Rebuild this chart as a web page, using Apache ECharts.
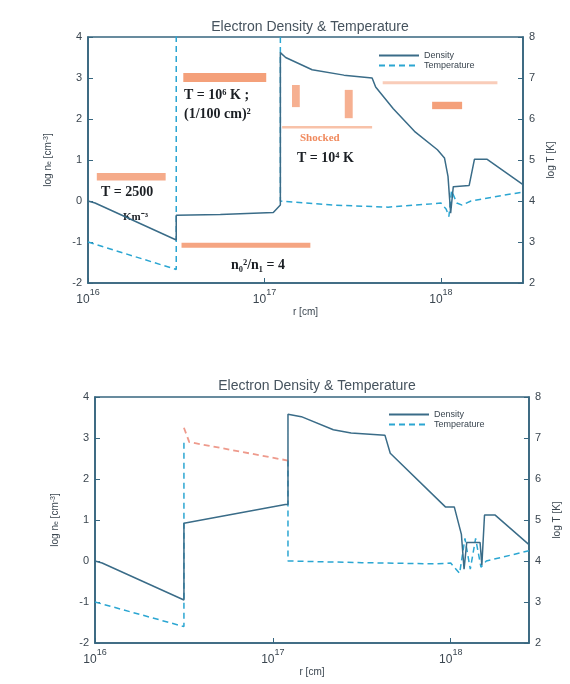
<!DOCTYPE html>
<html>
<head>
<meta charset="utf-8">
<script src="https://cdn.jsdelivr.net/npm/echarts@6/dist/echarts.min.js"></script>
<style>
  html, body { margin: 0; padding: 0; background: #ffffff; }
  #chart { width: 570px; height: 684px; }
</style>
</head>
<body>
<div id="chart"></div>
<script>
// Radii are log10 r [cm]; density is log10 n_e [cm^-3]; temperature is log10 T [K].

// Upper panel
const upperDensityR = [16.0, 16.04, 16.5, 16.5, 16.75, 17.05, 17.09, 17.09, 17.12, 17.27, 17.45, 17.61, 17.63, 17.73, 17.85, 17.98, 18.02, 18.04, 18.055, 18.07, 18.16, 18.19, 18.26, 18.465];
const upperDensity  = [0.0, -0.05, -0.95, -0.35, -0.33, -0.28, -0.1, 3.62, 3.5, 3.2, 3.07, 3.0, 2.78, 2.25, 1.7, 1.25, 1.05, 0.6, -0.3, 0.35, 0.38, 1.02, 1.02, 0.4];
const upperTempR = [16.0, 16.5, 16.5, 17.09, 17.09, 17.4, 17.7, 17.95, 18.0, 18.03, 18.045, 18.06, 18.09, 18.12, 18.17, 18.3, 18.465];
const upperTemp  = [3.0, 2.33, 8.5, 8.5, 4.0, 3.9, 3.85, 3.93, 3.95, 3.8, 3.62, 4.25, 3.95, 3.9, 4.0, 4.1, 4.22];

// Lower panel
const lowerDensityR = [16.0, 16.04, 16.5, 16.5, 17.07, 17.085, 17.085, 17.16, 17.34, 17.44, 17.63, 17.66, 17.97, 18.02, 18.06, 18.075, 18.09, 18.165, 18.175, 18.19, 18.25, 18.44];
const lowerDensity  = [0.0, -0.05, -0.95, 0.92, 1.38, 1.38, 3.58, 3.52, 3.2, 3.12, 3.07, 2.63, 1.32, 1.32, 0.65, -0.2, 0.45, 0.45, -0.1, 1.12, 1.12, 0.4];
const lowerTempInnerR = [16.0, 16.5, 16.5];
const lowerTempInner  = [3.0, 2.4, 6.9];
const lowerTempShellR = [16.5, 16.53, 17.085];
const lowerTempShell  = [7.25, 6.9, 6.45];
const lowerTempOuterR = [17.085, 17.085, 17.5, 17.9, 18.0, 18.05, 18.08, 18.11, 18.14, 18.17, 18.2, 18.44];
const lowerTempOuter  = [6.45, 4.0, 3.96, 3.93, 3.95, 3.7, 4.55, 3.8, 4.55, 3.85, 4.0, 4.25];

// Axis ticks
const xTicks = [16, 17, 18];
const densityTicks = [-2, -1, 0, 1, 2, 3, 4];
const tempTicks = [2, 3, 4, 5, 6, 7, 8];

const TITLE = 'Electron Density & Temperature';
const DENS_COLOR = '#3a6c88';
const TEMP_COLOR = '#2ba6d2';
const FRAME = '#37667f';
const ORANGE = '#f28f63';

function pairs(xs, ys) { return xs.map((x, i) => [x, ys[i]]); }

const grids = [
  { left: 88, top: 37, width: 435, height: 246 },
  { left: 95, top: 397, width: 435, height: 246 }
];
const xMax = [18.465, 18.44];

const tickLabel = {
  color: '#3b4650', fontSize: 11, fontFamily: 'Liberation Sans'
};

function xAxis(i) {
  return {
    type: 'value', gridIndex: i, min: xTicks[0], max: xMax[i], interval: 1,
    name: 'r [cm]', nameLocation: 'middle', nameGap: 22,
    nameTextStyle: { color: '#3b4650', fontSize: 10, fontFamily: 'Liberation Sans' },
    axisLine: { onZero: false, lineStyle: { color: FRAME, width: 1.6 } },
    axisTick: { inside: true, length: 5, lineStyle: { color: FRAME } },
    splitLine: { show: false },
    axisLabel: {
      showMaxLabel: false, margin: 5,
      formatter: v => '{b|10}{s|' + v + '}',
      rich: {
        b: { fontSize: 12, color: '#3b4650', fontFamily: 'Liberation Sans', padding: [6, 0, 0, 0] },
        s: { fontSize: 9, color: '#3b4650', fontFamily: 'Liberation Sans', verticalAlign: 'top', padding: [0, 0, 6, 0] }
      }
    }
  };
}

function densityAxis(i) {
  return {
    type: 'value', gridIndex: i, position: 'left',
    min: densityTicks[0], max: densityTicks[densityTicks.length - 1], interval: 1,
    name: 'log n{sub|e} [cm{sup|-3}]', nameLocation: 'middle', nameGap: 35,
    nameTextStyle: {
      color: '#3b4650', fontSize: 10, fontFamily: 'Liberation Sans',
      rich: {
        sub: { fontSize: 7, color: '#3b4650', verticalAlign: 'bottom' },
        sup: { fontSize: 7, color: '#3b4650', verticalAlign: 'top' }
      }
    },
    axisLine: { show: true, onZero: false, lineStyle: { color: FRAME, width: 1.6 } },
    axisTick: { show: true, inside: true, length: 5, lineStyle: { color: FRAME } },
    splitLine: { show: false },
    axisLabel: Object.assign({ margin: 6 }, tickLabel)
  };
}

function tempAxis(i) {
  return {
    type: 'value', gridIndex: i, position: 'right',
    min: tempTicks[0], max: tempTicks[tempTicks.length - 1], interval: 1,
    name: 'log T [K]', nameLocation: 'middle', nameGap: 19,
    nameTextStyle: { color: '#3b4650', fontSize: 10, fontFamily: 'Liberation Sans' },
    axisLine: { show: true, onZero: false, lineStyle: { color: FRAME, width: 1.6 } },
    axisTick: { show: true, inside: true, length: 5, lineStyle: { color: FRAME } },
    splitLine: { show: false },
    axisLabel: Object.assign({ margin: 6 }, tickLabel)
  };
}

function densitySeries(i, data, extra) {
  return Object.assign({
    name: 'Density', type: 'line', xAxisIndex: i, yAxisIndex: i * 2,
    data: data, symbol: 'none', clip: true, silent: true,
    lineStyle: { color: DENS_COLOR, width: 1.5 }, itemStyle: { color: DENS_COLOR }, z: 3
  }, extra || {});
}

function tempSeries(i, data, name, color, width) {
  return {
    name: name, type: 'line', xAxisIndex: i, yAxisIndex: i * 2 + 1,
    data: data, symbol: 'none', clip: true, silent: true, connectNulls: false,
    lineStyle: { color: color, width: width, type: [6, 4] }, itemStyle: { color: color }, z: 2
  };
}

function bar(x1, y1, x2, y2, color, opacity) {
  return [
    { coord: [x1, y1], itemStyle: { color: color, opacity: opacity } },
    { coord: [x2, y2] }
  ];
}

// Highlighter marks over the upper panel, in data coordinates
const upperHighlights = {
  silent: true,
  data: [
    bar(16.54, 3.12, 17.01, 2.9, ORANGE, 0.85),
    bar(16.05, 0.68, 16.44, 0.5, ORANGE, 0.75),
    bar(16.53, -1.02, 17.26, -1.14, ORANGE, 0.8),
    bar(17.156, 2.83, 17.2, 2.29, ORANGE, 0.7),
    bar(17.455, 2.71, 17.5, 2.02, ORANGE, 0.7),
    bar(17.10, 1.83, 17.61, 1.77, ORANGE, 0.55),
    bar(17.67, 2.92, 18.32, 2.85, ORANGE, 0.45),
    bar(17.95, 2.42, 18.12, 2.24, ORANGE, 0.85)
  ]
};

const serifBold = 'bold 14px "Liberation Serif", "DejaVu Serif", serif';
function note(x, y, text, color, font) {
  return { type: 'text', left: x, top: y, silent: true,
    style: { text: text, fill: color || '#1b1f24', font: font || serifBold } };
}

const legendBase = {
  orient: 'vertical', itemWidth: 40, itemHeight: 8, itemGap: 1,
  data: ['Density', 'Temperature'], selectedMode: false,
  itemStyle: { opacity: 0 },
  textStyle: { fontSize: 9, color: '#3b4650', fontFamily: 'Liberation Sans' }
};

const option = {
  animation: false,
  backgroundColor: '#ffffff',
  title: [
    { text: TITLE, left: 305, top: 15, textAlign: 'center',
      textStyle: { color: '#46535e', fontSize: 14, fontWeight: 'normal', fontFamily: 'Liberation Sans' } },
    { text: TITLE, left: 312, top: 374, textAlign: 'center',
      textStyle: { color: '#46535e', fontSize: 14, fontWeight: 'normal', fontFamily: 'Liberation Sans' } }
  ],
  legend: [
    Object.assign({ left: 373, top: 46 }, legendBase),
    Object.assign({ left: 383, top: 405 }, legendBase)
  ],
  grid: grids.map(g => Object.assign({ show: true, borderColor: FRAME, borderWidth: 1.6, backgroundColor: 'transparent' }, g)),
  xAxis: [xAxis(0), xAxis(1)],
  yAxis: [densityAxis(0), tempAxis(0), densityAxis(1), tempAxis(1)],
  series: [
    densitySeries(0, pairs(upperDensityR, upperDensity), { markArea: upperHighlights }),
    tempSeries(0, pairs(upperTempR, upperTemp), 'Temperature', TEMP_COLOR, 1.5),
    densitySeries(1, pairs(lowerDensityR, lowerDensity)),
    tempSeries(1, pairs(lowerTempInnerR, lowerTempInner).concat([[16.51, '-']], pairs(lowerTempOuterR, lowerTempOuter)), 'Temperature', TEMP_COLOR, 1.5),
    tempSeries(1, pairs(lowerTempShellR, lowerTempShell), 'Shell temperature', '#ee9a8c', 1.8)
  ],
  graphic: [
    note(101, 185, 'T = 2500'),
    note(123, 212, 'Km\u207b\u00b3', '#1b1f24', 'bold 11px "Liberation Serif", serif'),
    note(184, 88, 'T = 10\u2076 K ;'),
    note(184, 107, '(1/100 cm)\u00b2'),
    note(231, 258, 'n\u2080\u00b2/n\u2081 = 4'),
    note(297, 151, 'T = 10\u2074 K'),
    note(300, 133, 'Shocked', '#f08a5e', 'bold 11px "Liberation Serif", serif')
  ]
};

echarts.init(document.getElementById('chart')).setOption(option);
</script>
</body>
</html>
